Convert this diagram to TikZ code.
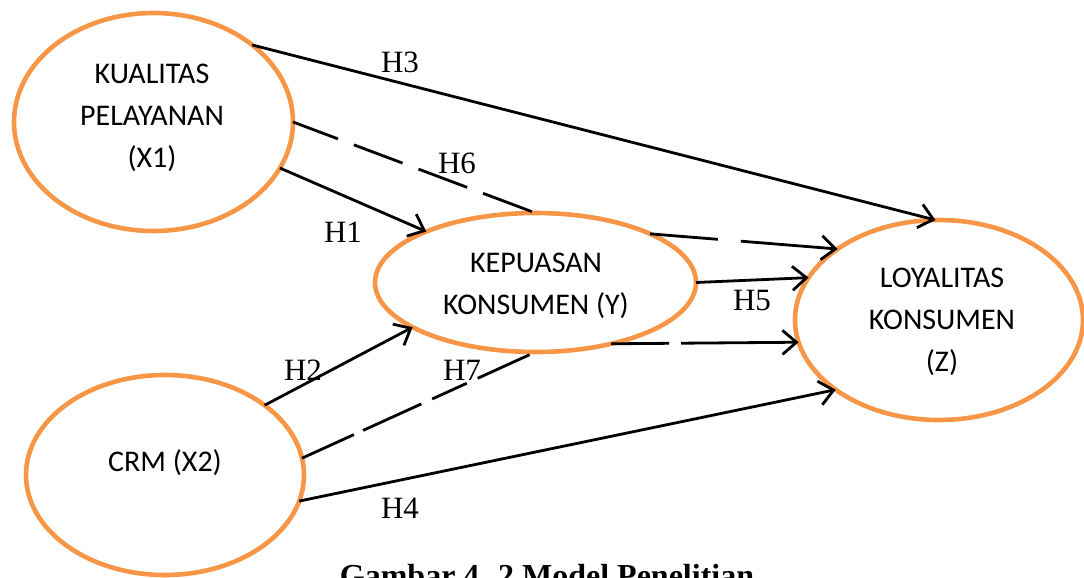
\documentclass[tikz,border=0pt]{standalone}
\usepackage{fontspec}
\setmainfont{Liberation Serif}
\newfontfamily\carlito{Carlito}
\usetikzlibrary{shapes.geometric,arrows.meta}
\definecolor{ovalorange}{RGB}{247,150,70}
\tikzset{
  oval/.style={ellipse, draw=ovalorange, line width=4.6pt, inner sep=0pt, outer sep=0pt},
  ovaltext/.style={font=\carlito\fontsize{30}{42}\selectfont, align=center, inner sep=0pt},
  hyp/.style={font=\fontsize{31}{36}\selectfont, inner sep=0pt},
  link/.style={line width=2.8pt, -{Straight Barb[length=14pt,width=24pt]}},
  plain/.style={line width=2.8pt},
}
\begin{document}
\begin{tikzpicture}[x=1pt,y=-1pt]
\useasboundingbox (0,0) rectangle (1084,578);
\clip (0,0) rectangle (1084,578);

% constructs
\node[oval, minimum width=279pt, minimum height=218pt] (x1) at (153.5,122) {};
\node[oval, minimum width=278pt, minimum height=200pt] (x2) at (165,475) {};
\node[oval, minimum width=321pt, minimum height=139pt] (y) at (535.5,282.5) {};
\node[oval, minimum width=288pt, minimum height=200pt] (z) at (939,320) {};

\node[ovaltext] (x1t) at (152,118) {KUALITAS\\PELAYANAN\\(X1)};
\node[ovaltext] (x2t) at (165,463) {CRM (X2)};
\node[ovaltext] (yt) at (536,286) {KEPUASAN\\KONSUMEN (Y)};
\node[ovaltext] (zt) at (942,322) {LOYALITAS\\KONSUMEN\\(Z)};

% direct paths
\draw[link] (x1.38) -- (z.92.3);
\draw[link] (x1.-20.3) -- (y.155.6);
\draw[link] (x2.35.5) -- (y.200);
\draw[link] (y.0) -- (z.162);
\draw[link] (x2.-11.5) -- (z.214.5);

% mediated paths through Y
\draw[plain, dash pattern=on 52pt off 17pt, dash phase=4pt] (x1.0) -- (y.90);
\draw[link, dash pattern=on 68pt off 23pt on 300pt off 1pt] (y.23.6) -- (z.145.2);
\draw[plain, dash pattern=on 57pt off 10pt on 64pt off 12pt on 38pt off 12pt] (x2.7.8) -- (y.270);
\draw[link, dash pattern=on 58pt off 12pt on 300pt off 1pt] (y.-39.7) -- (z.189.5);

% hypothesis labels
\node[hyp] (h3) at (400,62) {H3};
\node[hyp] (h6) at (457,163) {H6};
\node[hyp] (h1) at (343,232) {H1};
\node[hyp] (h5) at (752,300) {H5};
\node[hyp] (h2) at (303,370) {H2};
\node[hyp] (h7) at (462,370) {H7};
\node[hyp] (h4) at (400,508) {H4};

% caption, running past the lower edge
\node[anchor=base, inner sep=0pt, font=\bfseries\fontsize{32}{38}\selectfont] (cap) at (547,586) {Gambar 4. 2 Model Penelitian};
\end{tikzpicture}
\end{document}
